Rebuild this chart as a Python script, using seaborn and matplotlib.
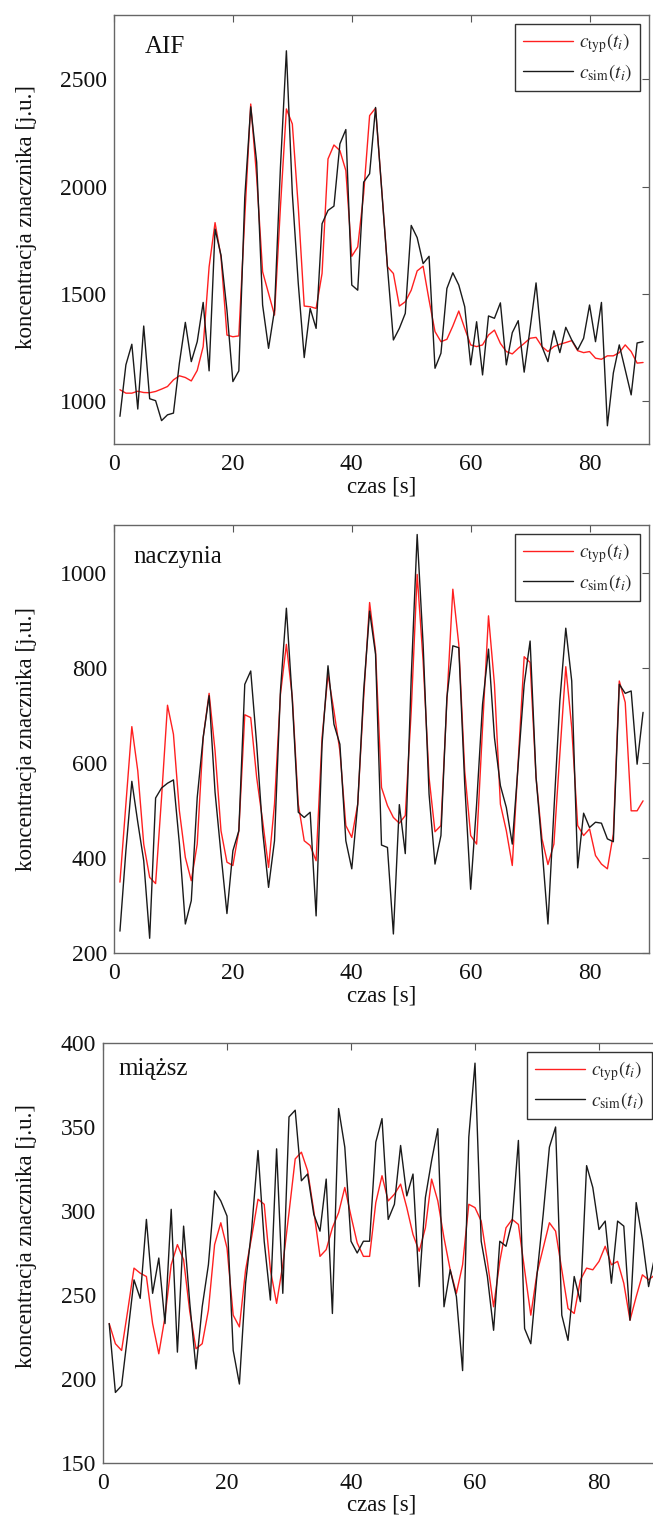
import numpy as np
import matplotlib
matplotlib.use("Agg")
import matplotlib.pyplot as plt
import seaborn as sns

# time steps [s]
t = np.arange(1, 90)

# AIF panel
aif_typ = [1053, 1037, 1037, 1046, 1040, 1039, 1045, 1056, 1068, 1099,
           1118, 1110, 1094, 1143, 1254, 1626, 1832, 1672, 1308, 1300,
           1304, 1858, 2385, 2044, 1603, 1502, 1401, 1905, 2362, 2292,
           1905, 1443, 1440, 1432, 1595, 2129, 2194, 2168, 2075, 1675,
           1719, 1967, 2331, 2366, 2000, 1626, 1595, 1443, 1463, 1517,
           1607, 1629, 1471, 1324, 1277, 1288, 1350, 1420, 1339, 1262,
           1254, 1262, 1308, 1331, 1269, 1231, 1220, 1246, 1269, 1293,
           1297, 1254, 1231, 1254, 1265, 1273, 1282, 1235, 1226, 1231,
           1200, 1195, 1211, 1211, 1226, 1262, 1231, 1177, 1180]
aif_sim = [929, 1169, 1265, 963, 1350, 1011, 1002, 909, 936, 944,
           1177, 1367, 1184, 1277, 1460, 1141, 1802, 1680, 1424, 1091,
           1141, 1950, 2372, 2114, 1448, 1246, 1424, 2090, 2633, 1967,
           1548, 1203, 1432, 1339, 1827, 1889, 1909, 2199, 2266, 1541,
           1517, 2021, 2060, 2369, 1997, 1626, 1285, 1339, 1409, 1819,
           1762, 1641, 1675, 1153, 1223, 1525, 1598, 1541, 1440, 1169,
           1370, 1122, 1397, 1386, 1458, 1169, 1319, 1375, 1135, 1339,
           1551, 1254, 1184, 1328, 1226, 1344, 1285, 1239, 1293, 1448,
           1277, 1460, 885, 1131, 1262, 1146, 1029, 1271, 1277]

# naczynia panel
nacz_typ = [349, 513, 676, 583, 429, 359, 346, 527, 721, 660,
            499, 401, 352, 429, 653, 746, 625, 457, 391, 384,
            457, 701, 695, 569, 478, 380, 513, 744, 849, 737,
            513, 436, 426, 394, 653, 786, 709, 625, 468, 443,
            513, 737, 937, 835, 548, 510, 485, 473, 489, 709,
            996, 814, 569, 455, 468, 730, 965, 849, 583, 447,
            429, 674, 909, 765, 513, 457, 384, 604, 823, 811,
            569, 440, 386, 429, 618, 802, 674, 468, 447, 461,
            405, 387, 377, 450, 772, 727, 499, 499, 520]
nacz_sim = [246, 415, 561, 475, 394, 231, 526, 547, 557, 564,
            430, 261, 310, 527, 653, 741, 538, 408, 283, 415,
            457, 765, 793, 639, 457, 338, 436, 751, 925, 730,
            496, 485, 496, 278, 639, 804, 681, 639, 436, 377,
            513, 751, 919, 828, 427, 422, 240, 512, 409, 779,
            1080, 849, 534, 387, 447, 737, 846, 842, 555, 334,
            513, 723, 839, 653, 552, 506, 429, 597, 765, 856,
            569, 422, 261, 499, 730, 883, 772, 379, 494, 464,
            475, 473, 440, 434, 765, 746, 751, 597, 706]

# miazsz panel
miaz_typ = [233, 221, 217, 241, 266, 263, 261, 233, 215, 237,
            268, 280, 271, 240, 218, 221, 241, 280, 293, 278,
            238, 231, 265, 285, 307, 304, 265, 245, 268, 299,
            331, 335, 324, 300, 273, 277, 290, 299, 314, 297,
            281, 273, 273, 305, 321, 306, 310, 316, 302, 286,
            276, 290, 319, 306, 284, 265, 251, 268, 304, 302,
            294, 270, 243, 270, 290, 295, 292, 265, 238, 263,
            278, 293, 288, 265, 242, 239, 259, 266, 265, 270,
            279, 268, 270, 257, 235, 249, 262, 259, 262]
miaz_sim = [233, 192, 196, 227, 259, 248, 295, 251, 272, 233,
            301, 216, 291, 245, 206, 243, 268, 312, 306, 297,
            217, 197, 257, 290, 336, 282, 247, 337, 251, 356,
            360, 318, 322, 298, 288, 319, 239, 361, 338, 282,
            275, 282, 282, 341, 355, 295, 304, 339, 309, 322,
            255, 308, 330, 349, 243, 265, 249, 205, 344, 388,
            282, 261, 229, 282, 279, 294, 342, 230, 221, 262,
            298, 338, 350, 238, 223, 261, 246, 327, 314, 289,
            294, 257, 294, 291, 235, 305, 283, 255, 273]

titles = ["AIF", "naczynia", "miąższ"]
ylims = [(800, 2800), (200, 1100), (150, 400)]
yticks = [[1000, 1500, 2000, 2500],
          [200, 400, 600, 800, 1000],
          [150, 200, 250, 300, 350, 400]]
xticks = [0, 20, 40, 60, 80]

sns.set_style("white")
plt.rcParams["font.family"] = ["Liberation Serif", "DejaVu Serif"]
plt.rcParams["mathtext.fontset"] = "stix"

fig = plt.figure(figsize=(6.53, 15.15), dpi=100)
W, H = 653, 1515
# axes boxes in pixels: left, top, right, bottom
boxes = [(114, 15, 649, 444), (114, 525, 649, 953), (103, 1043, 661, 1463)]
title_pos = [(0.058, 0.925), (0.036, 0.925), (0.027, 0.938)]
ylabel_y = [0.53, 0.5, 0.54]

series = [(aif_typ, aif_sim), (nacz_typ, nacz_sim), (miaz_typ, miaz_sim)]

for i, (l, tp, r, b) in enumerate(boxes):
    ax = fig.add_axes([l / W, 1 - b / H, (r - l) / W, (b - tp) / H])
    typ, sim = series[i]
    sns.lineplot(x=t, y=typ, ax=ax, color="#ff2020", linewidth=1.0,
                 label=r"$c_{\mathrm{typ}}(t_i)$")
    sns.lineplot(x=t, y=sim, ax=ax, color="#1a1a1a", linewidth=1.0,
                 label=r"$c_{\mathrm{sim}}(t_i)$")
    ax.set_xlim(0, 90)
    ax.set_ylim(*ylims[i])
    ax.set_xticks(xticks)
    ax.set_yticks(yticks[i])
    ax.tick_params(direction="in", length=5, width=0.8, color="#555555",
                   top=True, right=True, labelsize=17, pad=5,
                   labelcolor="#111111")
    ax.tick_params(axis="x", pad=7)
    for s in ax.spines.values():
        s.set_color("#666666")
        s.set_linewidth(1.0)

    ax.set_xlabel("czas [s]", fontsize=16.5, color="#111111")
    ax.xaxis.set_label_coords(0.5, -0.075)
    ax.set_ylabel("koncentracja znacznika [j.u.]", fontsize=16.5,
                  color="#111111")
    ax.yaxis.set_label_coords((37 - l) / (r - l), ylabel_y[i])

    ax.text(title_pos[i][0], title_pos[i][1], titles[i], transform=ax.transAxes,
            ha="left", va="center", fontsize=18, color="#111111")

    leg = ax.legend(loc="upper right", fontsize=14, frameon=True,
                    fancybox=False, framealpha=1, edgecolor="#333333",
                    handlelength=2.6, borderaxespad=0.45, labelspacing=0.35,
                    handletextpad=0.3, borderpad=0.4)
    leg.get_frame().set_linewidth(1.0)

fig.savefig("out.png", dpi=100)
